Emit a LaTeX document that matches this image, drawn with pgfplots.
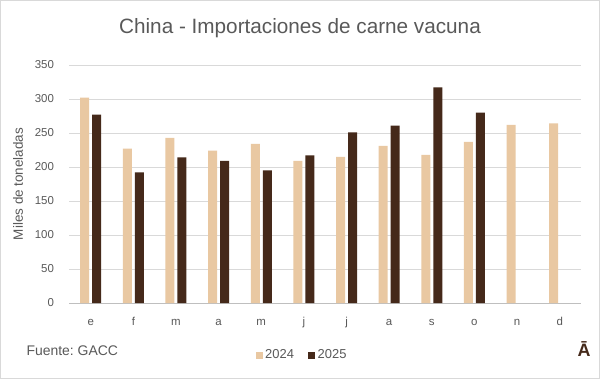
\documentclass[border=0pt]{standalone}
\usepackage{pgfplots}
\pgfplotsset{compat=1.18}
\usepackage{fontspec}
\setmainfont{Liberation Sans}
\frenchspacing
\definecolor{c24}{HTML}{E9C8A2}
\definecolor{c25}{HTML}{45291A}
\definecolor{txt}{HTML}{595959}
\definecolor{grid}{HTML}{D9D9D9}
\definecolor{base}{HTML}{BFBFBF}
\begin{document}
\begin{tikzpicture}[x=1bp,y=1bp]
\path[use as bounding box] (0,0) rectangle (600,379);
\fill[white] (0,0) rectangle (600,379);
\draw[grid,line width=1bp] (0.5,0.5) rectangle (599.5,378.5);
\begin{axis}[
  at={(69.4bp,76bp)}, anchor=south west,
  scale only axis, width=511.6bp, height=238bp,
  xmin=-0.5, xmax=11.5, ymin=0, ymax=350,
  ybar, bar width=9bp,
  xtick={0,...,11},
  xticklabels={e,f,m,a,m,j,j,a,s,o,n,d},
  ytick={0,50,...,350},
  /pgf/number format/assume math mode=true,
  ymajorgrids, grid style={draw=grid, line width=0.8bp},
  extra y ticks={0}, extra y tick labels={},
  extra y tick style={grid style={draw=base, line width=0.8bp}},
  axis line style={draw=none},
  major tick length=0pt,
  tick label style={font=\fontsize{11.5}{13}\selectfont, text=txt},
  xticklabel style={yshift=-11bp, text height=1.5ex, text depth=0.3ex},
  yticklabel style={xshift=-12bp},
  ylabel={Miles de toneladas},
  every axis y label/.style={at={(rel axis cs:0,0.5)}, xshift=-51.4bp, rotate=90, anchor=center, font=\fontsize{13.5}{15}\selectfont, text=txt},
  clip=false,
]
\addplot[fill=c24, draw=none, bar shift=-6bp] coordinates {
(0,302) (1,227) (2,243) (3,224) (4,234) (5,209) (6,215) (7,231) (8,218) (9,237) (10,262) (11,264)};
\addplot[fill=c25, draw=none, bar shift=6bp] coordinates {
(0,277) (1,192) (2,214) (3,209) (4,195) (5,217) (6,251) (7,261) (8,317) (9,280)};
\end{axis}
\node[text=txt, font=\fontsize{20.8}{24}\selectfont] at (300,351) {China - Importaciones de carne vacuna};
\node[text=txt, font=\fontsize{14}{16}\selectfont, anchor=base west] at (23,24) {Fuente: GACC};
\fill[c24] (256,20.5) rectangle (263,27.5);
\node[text=txt, font=\fontsize{13}{15}\selectfont, anchor=base west, inner sep=0pt] at (265,20.3) {2024};
\fill[c25] (308,20.5) rectangle (315,27.5);
\node[text=txt, font=\fontsize{13}{15}\selectfont, anchor=base west, inner sep=0pt] at (317.5,20.3) {2025};
\node[text=c25, font=\bfseries\fontsize{18}{20}\selectfont] at (584,30) {Ā};
\end{tikzpicture}
\end{document}
